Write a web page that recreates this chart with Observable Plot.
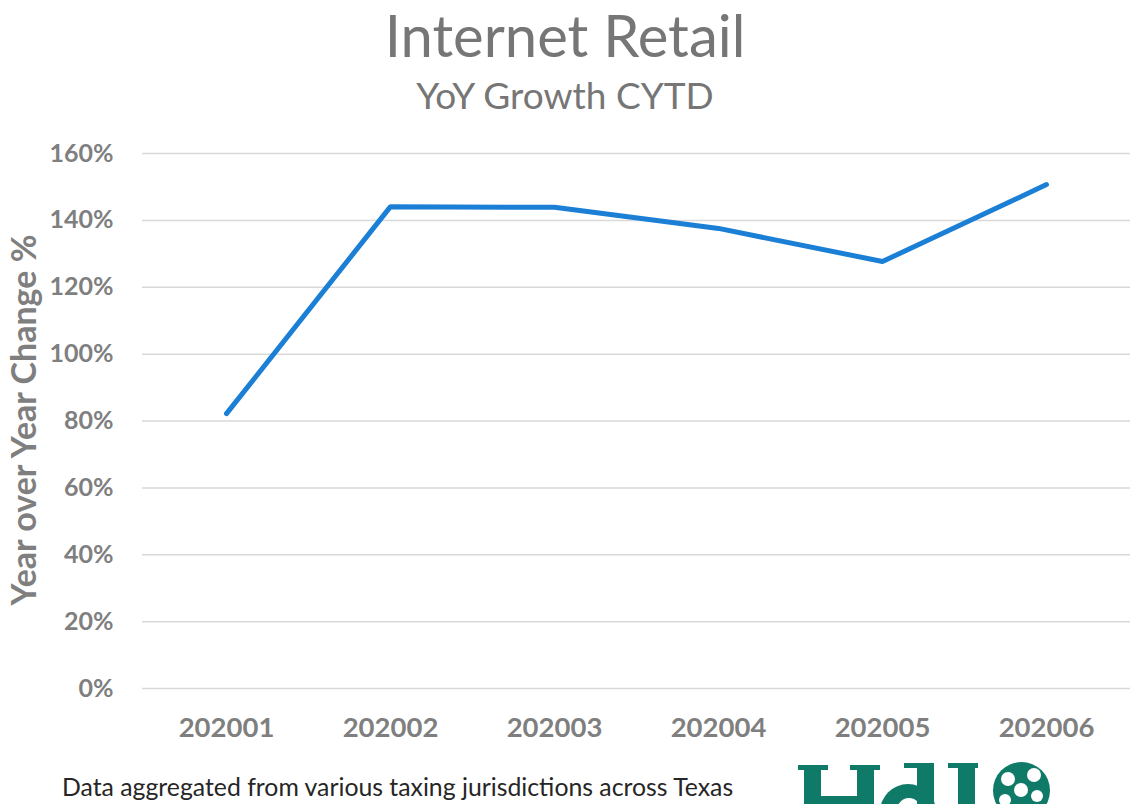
<!DOCTYPE html>
<html>
<head>
<meta charset="utf-8">
<script src="https://cdn.jsdelivr.net/npm/d3@7"></script>
<script src="https://cdn.jsdelivr.net/npm/@observablehq/plot@0.6"></script>
<style>
  html, body { margin: 0; padding: 0; background: #fff; }
  #wrap { position: relative; width: 1130px; height: 804px; overflow: hidden; font-family: Lato, "Open Sans", sans-serif; }
  #title { position: absolute; top: 0px; left: 0; width: 1130px; text-align: center; font-size: 58px; color: #767676; line-height: 70px; }
  #subtitle { position: absolute; top: 73px; left: 0; width: 1130px; text-align: center; font-size: 37px; color: #767676; line-height: 44px; }
  #ylabel { position: absolute; left: 22px; top: 420px; transform: translate(-50%, -50%) rotate(-90deg); white-space: nowrap; font-size: 34px; font-weight: bold; color: #7f7f7f; }
  #chart { position: absolute; left: 0; top: 130px; }
  #caption { position: absolute; left: 62px; top: 772px; font-size: 24.8px; color: #262626; white-space: nowrap; }
  .lg { position: absolute; background: #0e7a67; }
  .pz { position: absolute; border-radius: 50%; background: #fff; }
</style>
</head>
<body>
<div id="wrap">
  <div id="title">Internet Retail</div>
  <div id="subtitle">YoY Growth CYTD</div>
  <div id="ylabel">Year over Year Change %</div>
  <div id="chart"></div>
  <div id="caption">Data aggregated from various taxing jurisdictions across Texas</div>
  <!-- logo drawn from shapes (partially cut off at the bottom edge, as in the reference) -->
  <div class="lg" style="left:798px;top:765px;width:30px;height:5px"></div>
  <div class="lg" style="left:804px;top:765px;width:17px;height:45px"></div>
  <div class="lg" style="left:850px;top:765px;width:30px;height:5px"></div>
  <div class="lg" style="left:857px;top:765px;width:17px;height:45px"></div>
  <div class="lg" style="left:804px;top:796px;width:70px;height:10px"></div>
  <div class="lg" style="left:880px;top:784px;width:56px;height:56px;border-radius:50%"></div>
  <div style="position:absolute;left:896px;top:798px;width:26px;height:30px;border-radius:50%;background:#fff"></div>
  <div class="lg" style="left:904px;top:763px;width:30px;height:5px"></div>
  <div class="lg" style="left:917px;top:763px;width:17px;height:45px"></div>
  <div class="lg" style="left:948px;top:763px;width:30px;height:5px"></div>
  <div class="lg" style="left:958px;top:763px;width:17px;height:45px"></div>
  <div class="lg" style="left:993px;top:762px;width:57px;height:57px;border-radius:50%">
    <div class="pz" style="left:8px;top:10px;width:14px;height:14px"></div>
    <div class="pz" style="left:34px;top:6px;width:14px;height:14px"></div>
    <div class="pz" style="left:21px;top:21px;width:14px;height:14px"></div>
    <div class="pz" style="left:38px;top:28px;width:12px;height:12px"></div>
    <div class="pz" style="left:6px;top:32px;width:12px;height:12px"></div>
  </div>
</div>
<script>
const periods = ["202001", "202002", "202003", "202004", "202005", "202006"];
const growth = [0.822, 1.441, 1.439, 1.376, 1.277, 1.507];
const yTicks = [0, 0.2, 0.4, 0.6, 0.8, 1.0, 1.2, 1.4, 1.6];

const data = periods.map((p, i) => ({period: p, value: growth[i]}));

const chart = Plot.plot({
  width: 1130,
  height: 630,
  marginLeft: 142,
  marginRight: 0,
  marginTop: 23,
  marginBottom: 72,
  style: {fontFamily: "Lato, 'Open Sans', sans-serif", background: "transparent"},
  x: {type: "point", domain: periods, padding: 0.5, label: null},
  y: {domain: [0, 1.6], label: null},
  marks: [
    Plot.gridY(yTicks, {stroke: "#d9d9d9", strokeOpacity: 1, strokeWidth: 1.5}),
    Plot.axisY(yTicks, {tickSize: 0, tickPadding: 29, tickFormat: d => Math.round(d * 100) + "%", fontSize: 25, fontWeight: "bold", fill: "#7f7f7f", label: null}),
    Plot.axisX(periods, {tickSize: 0, tickPadding: 29, fontSize: 27.5, fontWeight: "bold", fill: "#7f7f7f", label: null}),
    Plot.line(data, {x: "period", y: "value", stroke: "#1b7fd6", strokeWidth: 5, strokeLinecap: "round", strokeLinejoin: "miter"})
  ]
});
document.getElementById("chart").appendChild(chart);
</script>
</body>
</html>
